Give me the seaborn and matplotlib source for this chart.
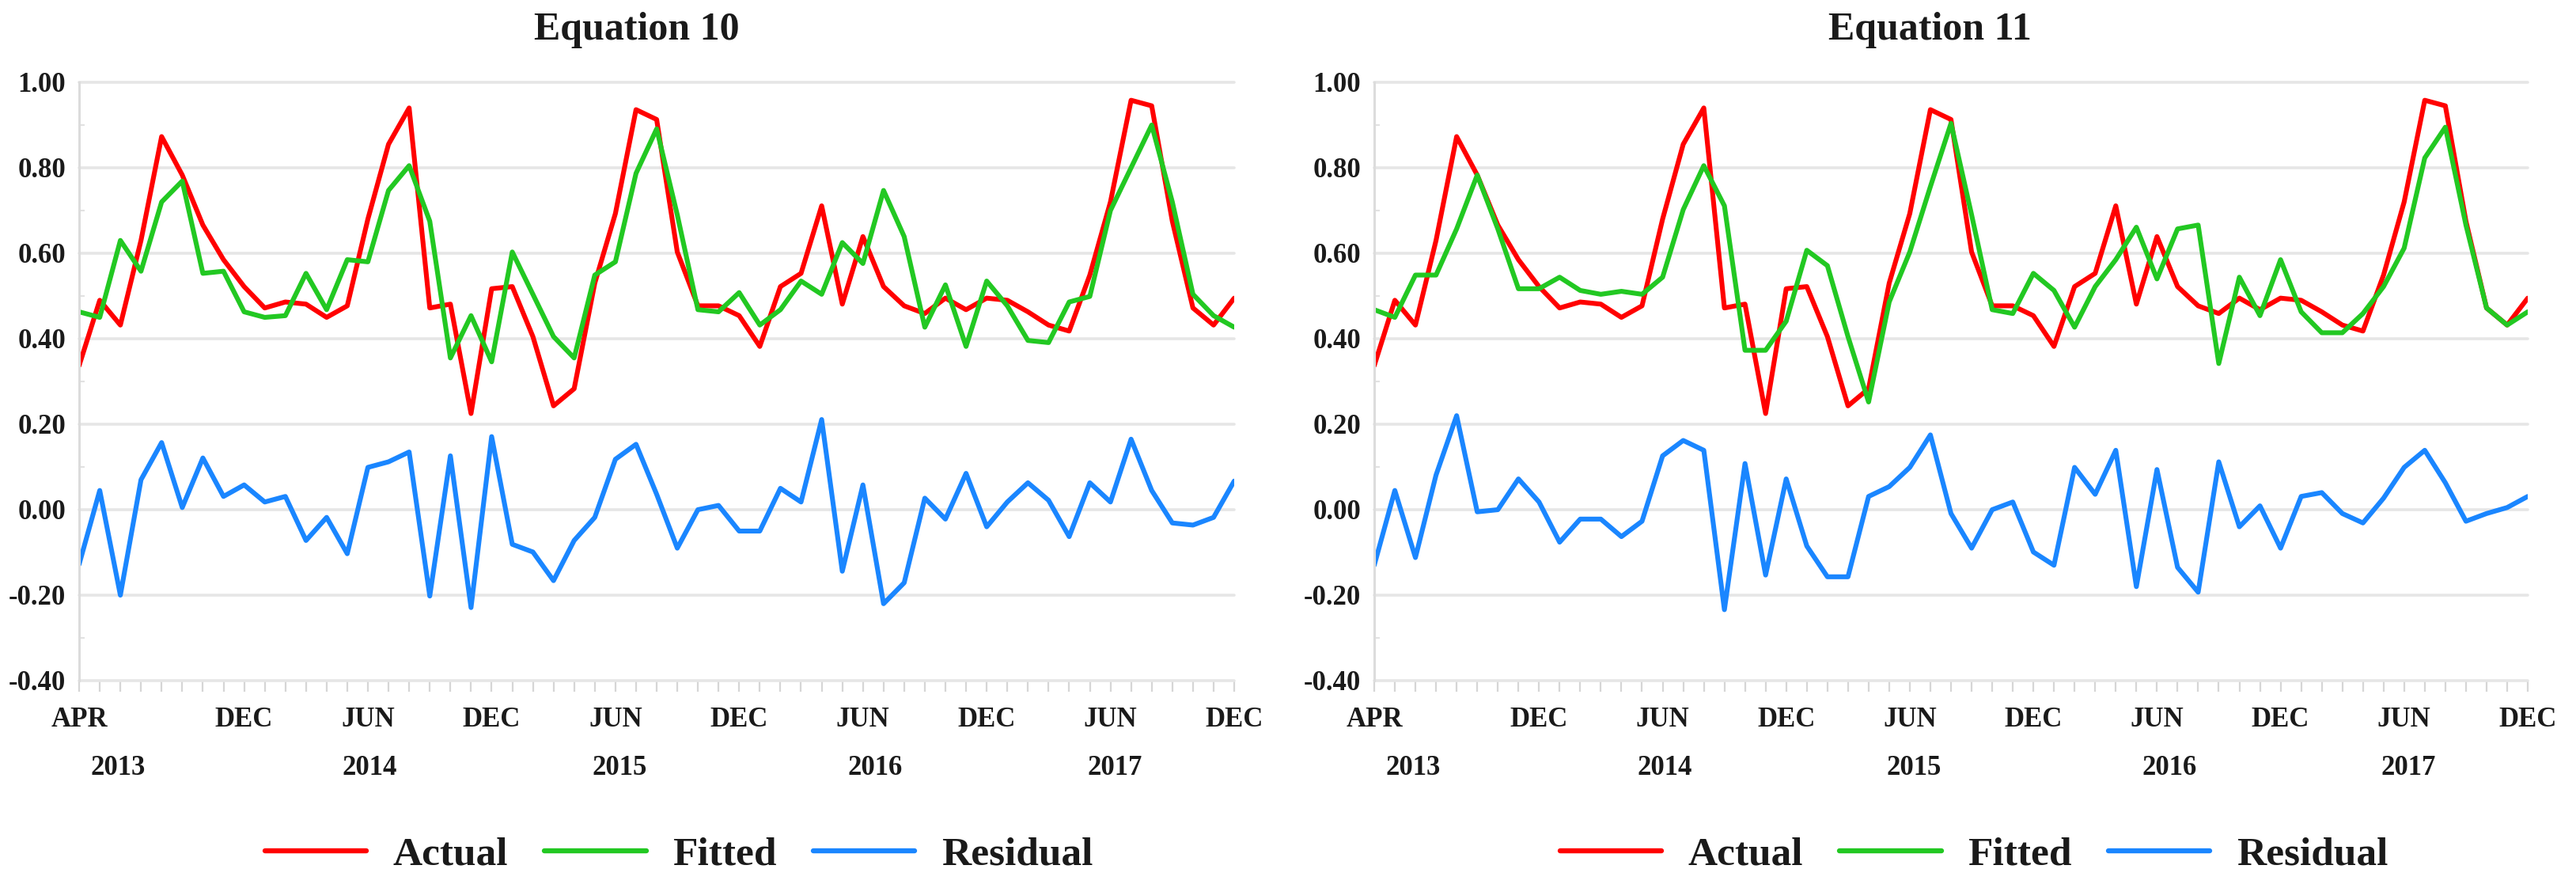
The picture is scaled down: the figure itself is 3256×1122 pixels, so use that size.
import numpy as np
import pandas as pd
import matplotlib
matplotlib.use("Agg")
import matplotlib.pyplot as plt
import matplotlib.transforms as mtransforms
from matplotlib.lines import Line2D
from matplotlib.ticker import MultipleLocator
import seaborn as sns

# ---------------- data ----------------
n_months = 57  # APR 2013 .. DEC 2017
month_tick_pos = [0, 8, 14, 20, 26, 32, 38, 44, 50, 56]
month_tick_labels = ["APR", "DEC", "JUN", "DEC", "JUN", "DEC", "JUN", "DEC", "JUN", "DEC"]
year_labels = ["2013", "2014", "2015", "2016", "2017"]
year_pos = [1.9, 14.1, 26.2, 38.6, 50.2]

actual = [0.337, 0.490, 0.432, 0.630, 0.873, 0.783, 0.666, 0.585, 0.522, 0.472,
          0.486, 0.481, 0.450, 0.477, 0.680, 0.855, 0.940, 0.472, 0.481, 0.225,
          0.517, 0.522, 0.405, 0.243, 0.283, 0.530, 0.693, 0.936, 0.913, 0.603,
          0.477, 0.477, 0.454, 0.382, 0.522, 0.553, 0.711, 0.481, 0.639, 0.522,
          0.477, 0.459, 0.495, 0.468, 0.495, 0.490, 0.463, 0.432, 0.418, 0.549,
          0.720, 0.958, 0.945, 0.675, 0.472, 0.432, 0.495]

fitted_eq10 = [0.463, 0.450, 0.630, 0.558, 0.720, 0.769, 0.553, 0.558, 0.463, 0.450,
               0.454, 0.553, 0.468, 0.585, 0.580, 0.747, 0.805, 0.675, 0.355, 0.454,
               0.346, 0.603, 0.504, 0.405, 0.355, 0.549, 0.580, 0.787, 0.891, 0.690,
               0.468, 0.463, 0.508, 0.432, 0.468, 0.535, 0.504, 0.625, 0.576, 0.747,
               0.639, 0.427, 0.526, 0.382, 0.535, 0.477, 0.396, 0.391, 0.486, 0.499,
               0.700, 0.800, 0.900, 0.720, 0.504, 0.454, 0.427]

residual_eq10 = [-0.128, 0.045, -0.200, 0.070, 0.157, 0.005, 0.121, 0.031, 0.058, 0.018,
                 0.031, -0.072, -0.018, -0.103, 0.099, 0.112, 0.135, -0.202, 0.126, -0.229,
                 0.171, -0.081, -0.099, -0.166, -0.072, -0.018, 0.118, 0.153, 0.036, -0.090,
                 0.000, 0.010, -0.050, -0.050, 0.050, 0.018, 0.211, -0.144, 0.058, -0.220,
                 -0.171, 0.027, -0.022, 0.085, -0.040, 0.018, 0.063, 0.022, -0.063, 0.063,
                 0.018, 0.165, 0.045, -0.031, -0.036, -0.018, 0.067]

fitted_eq11 = [0.468, 0.450, 0.549, 0.549, 0.657, 0.783, 0.657, 0.517, 0.517, 0.544,
               0.513, 0.504, 0.511, 0.504, 0.544, 0.702, 0.805, 0.711, 0.373, 0.373,
               0.441, 0.607, 0.571, 0.405, 0.252, 0.486, 0.603, 0.756, 0.904, 0.690,
               0.468, 0.459, 0.553, 0.513, 0.427, 0.522, 0.585, 0.661, 0.540, 0.657,
               0.666, 0.342, 0.544, 0.454, 0.585, 0.463, 0.414, 0.414, 0.459, 0.522,
               0.612, 0.823, 0.895, 0.666, 0.472, 0.432, 0.463]

residual_eq11 = [-0.130, 0.045, -0.112, 0.081, 0.220, -0.005, 0.000, 0.072, 0.018, -0.076,
                 -0.022, -0.022, -0.063, -0.027, 0.126, 0.162, 0.139, -0.234, 0.108, -0.153,
                 0.072, -0.085, -0.157, -0.157, 0.031, 0.054, 0.099, 0.175, -0.009, -0.090,
                 0.000, 0.018, -0.099, -0.130, 0.099, 0.036, 0.139, -0.180, 0.094, -0.135,
                 -0.193, 0.112, -0.040, 0.009, -0.090, 0.031, 0.040, -0.009, -0.031, 0.027,
                 0.099, 0.139, 0.063, -0.027, -0.009, 0.005, 0.031]

series_names = ["Actual", "Fitted", "Residual"]
series_colors = {"Actual": "#ff0000", "Fitted": "#22c822", "Residual": "#1a86ff"}
titles = ["Equation 10", "Equation 11"]

# ---------------- style ----------------
sns.set_theme(style="white")
plt.rcParams["font.family"] = ["Liberation Serif", "DejaVu Serif"]
plt.rcParams["font.weight"] = "bold"
TXT = "#1a1a1a"

W, H = 3256, 1122
fig = plt.figure(figsize=(W / 100, H / 100), dpi=100)

ax_boxes = [(100, 1460), (1737, 1458)]
title_x = [805, 2439]
legend_x = [858, 2495]
top_px, bottom_px = 104, 860

panels = [(fitted_eq10, residual_eq10), (fitted_eq11, residual_eq11)]

for k, ((left_px, width_px), (fitted, resid)) in enumerate(zip(ax_boxes, panels)):
    ax = fig.add_axes([left_px / W, 1 - bottom_px / H, width_px / W, (bottom_px - top_px) / H])
    t = np.arange(n_months)
    df = pd.DataFrame({
        "t": np.concatenate([t, t, t]),
        "value": np.concatenate([actual, fitted, resid]),
        "series": np.repeat(series_names, n_months),
    })
    sns.lineplot(data=df, x="t", y="value", hue="series", palette=series_colors,
                 hue_order=series_names, linewidth=4.4, ax=ax, legend=False, sort=False)
    ax.set_xlim(0, n_months - 1)
    ax.set_ylim(-0.4, 1.0)
    ax.set_xlabel("")
    ax.set_ylabel("")

    yt = np.round(np.arange(-0.4, 1.01, 0.2), 2)
    ax.set_yticks(yt)
    ax.set_yticklabels([f"{v:.2f}" for v in yt], fontsize=25, fontweight="bold", color=TXT)
    ax.yaxis.set_minor_locator(MultipleLocator(0.1))

    ax.set_xticks(month_tick_pos)
    ax.set_xticklabels(month_tick_labels, fontsize=25, fontweight="bold", color=TXT)
    ax.set_xticks(np.arange(n_months), minor=True)

    ax.tick_params(axis="x", which="both", length=10, width=1.6, color="#d6d6d6",
                   direction="out", bottom=True)
    ax.tick_params(axis="x", which="major", pad=14)
    ax.tick_params(axis="y", which="major", length=0, pad=12, left=True)
    ax.tick_params(axis="y", which="minor", length=5, width=1.5, color="#e2e2e2",
                   direction="in", left=True)

    for s in ["top", "right", "bottom"]:
        ax.spines[s].set_visible(False)
    ax.spines["left"].set_color("#dcdcdc")
    ax.spines["left"].set_linewidth(2.2)

    ax.yaxis.grid(True, color="#e6e6e6", linewidth=2.6)
    ax.xaxis.grid(False)
    ax.set_axisbelow(True)
    for gl in ax.get_ygridlines():
        gl.set_clip_on(False)

    trans = mtransforms.blended_transform_factory(ax.transData, ax.transAxes)
    for yp, yl in zip(year_pos, year_labels):
        ax.text(yp, -0.146, yl, transform=trans, ha="center", va="center",
                fontsize=25, fontweight="bold", color=TXT)

    fig.text(title_x[k] / W, 1 - 38 / H, titles[k], ha="center", va="center",
             fontsize=36, fontweight="bold", color=TXT)

    handles = [Line2D([], [], color=series_colors[s], linewidth=4.6) for s in series_names]
    fig.legend(handles, series_names, loc="center",
               bbox_to_anchor=(legend_x[k] / W, 1 - 1080 / H), ncol=3, frameon=False,
               prop={"size": 37, "weight": "bold"}, handlelength=2.5,
               handletextpad=0.65, columnspacing=0.9, labelcolor=TXT)

fig.savefig("out.png", dpi=100)
